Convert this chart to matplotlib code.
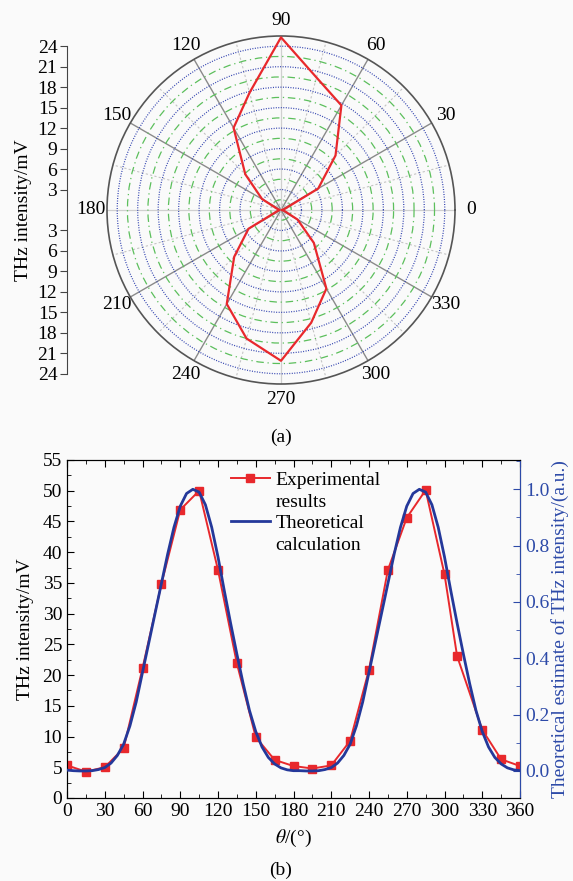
import numpy as np
import matplotlib
matplotlib.use("Agg")
import matplotlib.pyplot as plt
from matplotlib.lines import Line2D
from matplotlib.ticker import MultipleLocator

plt.rcParams['font.family'] = ['Liberation Serif', 'DejaVu Serif']
plt.rcParams['mathtext.fontset'] = 'stix'
plt.rcParams['font.size'] = 14

# ---------------- data ----------------
# (a) polar plot
theta_pol = [0, 15, 30, 45, 60, 75, 90, 105, 120, 135, 150, 165, 180,
             195, 210, 225, 240, 255, 270, 285, 300, 315, 330, 345, 360]
r_pol = [0.2, 0.5, 6.3, 11.3, 17.7, 20.1, 25.3, 17.8, 13.9, 7.4, 3.2, 0.5, 0.2,
         0.5, 5.5, 9.7, 15.9, 19.5, 22.1, 17.1, 13.3, 6.8, 2.8, 0.5, 0.2]
pol_r_ticks = [-24, -21, -18, -15, -12, -9, -6, -3, 3, 6, 9, 12, 15, 18, 21, 24]

# (b) experimental results
theta_exp = [0, 15, 30, 45, 60, 75, 90, 105, 120, 135, 150, 165, 180,
             195, 210, 225, 240, 255, 270, 285, 300, 310, 330, 345, 360]
exp_mv = [5.3, 4.3, 5.0, 8.1, 21.1, 34.8, 46.9, 50.0, 37.1, 21.9, 9.9, 6.2, 5.2,
          4.8, 5.3, 9.3, 20.9, 37.1, 45.6, 50.1, 36.4, 23.1, 11.1, 6.3, 5.2]

# (b) theoretical calculation (every 5 deg)
theta_th = list(range(0, 361, 5))
th_au = [0.003, 0.001, 0.000, 0.000, 0.001, 0.005, 0.012, 0.028, 0.055, 0.095,
         0.160, 0.245, 0.350, 0.455, 0.560, 0.665, 0.770, 0.865, 0.940, 0.985,
         1.000, 0.990, 0.945, 0.865, 0.760, 0.640, 0.525, 0.415, 0.310, 0.215,
         0.140, 0.085, 0.048, 0.025, 0.011, 0.004, 0.001,
         0.001, 0.000, 0.000, 0.001, 0.005, 0.012, 0.028, 0.055, 0.095,
         0.160, 0.245, 0.350, 0.455, 0.560, 0.665, 0.770, 0.865, 0.940, 0.985,
         1.000, 0.990, 0.945, 0.865, 0.760, 0.640, 0.525, 0.415, 0.310, 0.215,
         0.140, 0.085, 0.048, 0.025, 0.011, 0.004, 0.001]

RED = '#e8282c'
BLUE = '#24389a'
AXBLUE = '#2d4aa8'

W, H = 573, 881
fig = plt.figure(figsize=(W / 100, H / 100), dpi=100, facecolor='#fafafa')

# ---------------- (a) polar ----------------
cx, cy, R = 281, 210, 174
rmax = 25.5
axp = fig.add_axes([(cx - R) / W, (H - cy - R) / H, 2 * R / W, 2 * R / H], projection='polar')
axp.set_facecolor('none')
axp.set_ylim(0, rmax)
axp.set_xticks(np.deg2rad(np.arange(0, 360, 15)))
labels = []
for a in range(0, 360, 15):
    labels.append(str(a) if a % 30 == 0 else '')
axp.set_xticklabels(labels, fontsize=14)
axp.tick_params(axis='x', pad=1)
axp.set_yticks(np.arange(1.5, 24.1, 1.5))
axp.set_yticklabels([])
axp.grid(True)
for i, gl in enumerate(axp.xaxis.get_gridlines()):
    a = i * 15
    if a % 90 == 0:
        gl.set_color('#cfcfcf'); gl.set_linestyle('-'); gl.set_linewidth(0.9)
    elif a % 30 == 0:
        gl.set_color('#8a8a8a'); gl.set_linestyle('-'); gl.set_linewidth(1.0)
    else:
        gl.set_color('#c4c4c4'); gl.set_linestyle((0, (2, 2))); gl.set_linewidth(0.8)
for i, gl in enumerate(axp.yaxis.get_gridlines()):
    if i % 2 == 1:
        gl.set_color('#3344b0'); gl.set_linestyle((0, (0.8, 1.2))); gl.set_linewidth(0.9)
    else:
        gl.set_color('#5cbf5c'); gl.set_linestyle((0, (6, 3, 1, 3))); gl.set_linewidth(0.9)
axp.spines['polar'].set_color('#555555')
axp.spines['polar'].set_linewidth(1.2)
axp.plot(np.deg2rad(theta_pol), r_pol, color=RED, lw=1.6, zorder=5)

# radial value axis on the left
axl = fig.add_axes([67 / W, (H - cy - R) / H, 0.02, 2 * R / H])
axl.set_facecolor('none')
axl.set_ylim(-rmax, rmax)
for s in ['top', 'right', 'bottom']:
    axl.spines[s].set_visible(False)
axl.spines['left'].set_bounds(-24, 24)
axl.spines['left'].set_color('#444444')
axl.set_xticks([])
axl.set_yticks(pol_r_ticks)
axl.set_yticklabels([str(abs(v)) for v in pol_r_ticks])
axl.tick_params(axis='y', direction='out', length=5, color='#444444', pad=2, labelsize=14)
axl.set_ylabel('THz intensity/mV', fontsize=14, labelpad=4)

fig.text(281 / W, 1 - 437 / H, '(a)', ha='center', va='center', fontsize=14)

# ---------------- (b) cartesian ----------------
L, Rr, T, B = 67, 520, 460, 798
axc = fig.add_axes([L / W, (H - B) / H, (Rr - L) / W, (B - T) / H])
axc.set_facecolor('none')
axc.plot(theta_exp, exp_mv, color=RED, lw=1.4, marker='s', ms=6, zorder=3)
axc.set_xlim(0, 360)
axc.set_ylim(0, 55)
axc.xaxis.set_major_locator(MultipleLocator(30))
axc.xaxis.set_minor_locator(MultipleLocator(15))
axc.yaxis.set_major_locator(MultipleLocator(5))
axc.yaxis.set_minor_locator(MultipleLocator(2.5))
axc.tick_params(which='both', direction='in', top=True, labelsize=14)
axc.tick_params(which='major', length=5)
axc.tick_params(which='minor', length=3)
axc.set_xlabel(r'$\theta$/(°)', fontsize=14, labelpad=6)
axc.set_ylabel('THz intensity/mV', fontsize=14, labelpad=6)

axr = axc.twinx()
axr.plot(theta_th, th_au, color=BLUE, lw=2.0, zorder=4)
axr.set_ylim(-0.096, 1.104)
axr.yaxis.set_major_locator(MultipleLocator(0.2))
axr.yaxis.set_minor_locator(MultipleLocator(0.1))
axr.yaxis.set_major_formatter(matplotlib.ticker.FormatStrFormatter('%.1f'))
axr.tick_params(which='both', direction='in', colors=AXBLUE, labelsize=14)
axr.tick_params(which='major', length=5)
axr.tick_params(which='minor', length=3)
axr.spines['right'].set_color(AXBLUE)
axr.set_ylabel('Theoretical estimate of THz intensity/(a.u.)', color=AXBLUE, fontsize=14, labelpad=1)

blank = Line2D([], [], alpha=0)
h1 = Line2D([], [], color=RED, lw=1.4, marker='s', ms=6)
h2 = Line2D([], [], color=BLUE, lw=2.0)
axr.legend([h1, blank, h2, blank], ['Experimental', 'results', 'Theoretical', 'calculation'],
           loc='upper left', bbox_to_anchor=(0.362, 0.966), frameon=False,
           handlelength=2.0, handletextpad=0.3, labelspacing=0.2, borderpad=0,
           borderaxespad=0, fontsize=14)

fig.text(281 / W, 1 - 870 / H, '(b)', ha='center', va='center', fontsize=14)

fig.savefig('out.png', dpi=100, facecolor=fig.get_facecolor())
